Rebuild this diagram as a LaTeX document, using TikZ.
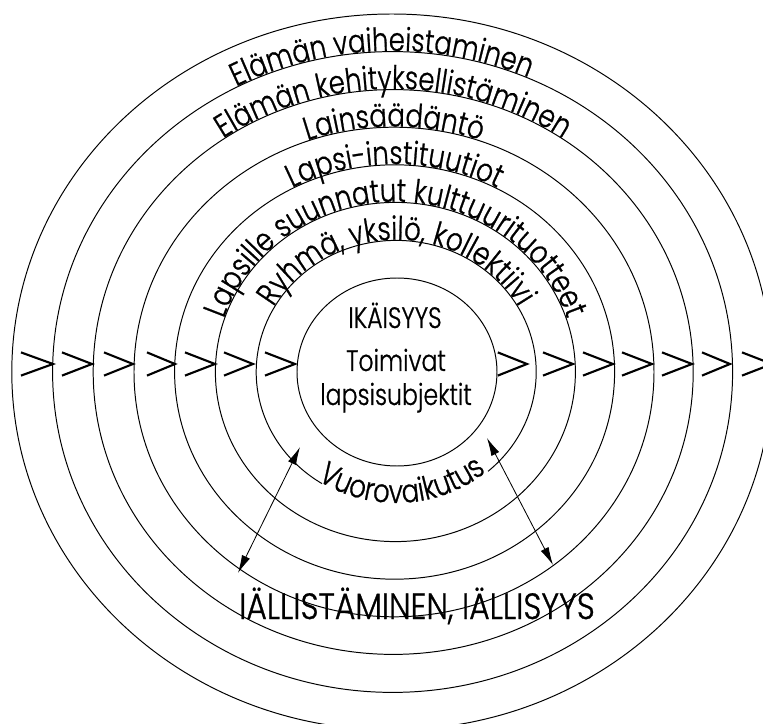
\documentclass[tikz,border=0pt]{standalone}
\usepackage{fontspec}
\setmainfont{Poppins}
\newfontfamily\ringfamily[FakeStretch=0.8, FakeBold=0.8]{Poppins Light}
\newfontfamily\corefamily[FakeStretch=0.8, FakeBold=0.8]{Poppins Light}
\newfontfamily\widefamily[FakeStretch=0.86, FakeBold=0.8]{Poppins Light}
\usetikzlibrary{decorations.text}
\usetikzlibrary{arrows.meta}

\newcommand{\ringfont}{\ringfamily\fontsize{23}{25}\selectfont}

\begin{document}
\begin{tikzpicture}[
    ring/.style={line width=0.7pt},
    chev/.style={line width=1.5pt},
    ringlabel/.style={decorate, decoration={text along path, text align=center, raise=0.5pt}},
    corelabel/.style={anchor=base, inner sep=0pt, font=\corefamily\fontsize{21}{23}\selectfont},
    twoway/.style={{Latex[length=4.5mm,width=2.2mm]}-{Latex[length=4.5mm,width=2.2mm]}, line width=0.6pt}
  ]
    \useasboundingbox (-9.925,-8.8) rectangle (9.15,9.3);
    \clip (-9.925,-8.8) rectangle (9.15,9.3);

    % Rings, innermost first (ring 1 is open at the bottom)
    \draw[ring] (0,0) ellipse [x radius=2.5, y radius=2.35];
    \draw[ring] (-0.02,0) ++(-49:3.5 and 3.29) arc[start angle=-49, end angle=238, x radius=3.5, y radius=3.29];
    \draw[ring] (-0.04,0) ellipse [x radius=4.5, y radius=4.24];
    \draw[ring] (-0.06,0) ellipse [x radius=5.5, y radius=5.18];
    \draw[ring] (-0.075,0) ellipse [x radius=6.5, y radius=6.12];
    \draw[ring] (-0.095,0) ellipse [x radius=7.5, y radius=7.06];
    \draw[ring] (-0.11,0) ellipse [x radius=8.5, y radius=8.01];
    \draw[ring] (-0.13,0) ellipse [x radius=9.5, y radius=8.95];

    % Ring labels
    \path[ringlabel, decoration={text={|\ringfont|Ryhmä, yksilö, kollektiivi}}]
      (-0.02,0) ++(180:3.5 and 3.29) arc[start angle=180, end angle=0, x radius=3.5, y radius=3.29];
    \path[ringlabel, decoration={text={|\ringfont|Vuorovaikutus}}]
      (-0.02,0) ++(203:3.5 and 3.29) arc[start angle=203, end angle=343, x radius=3.5, y radius=3.29];
    \path[ringlabel, decoration={text={|\ringfont|Lapsille suunnatut kulttuurituotteet}}]
      (-0.04,0) ++(180:4.5 and 4.24) arc[start angle=180, end angle=0, x radius=4.5, y radius=4.24];
    \path[ringlabel, decoration={text={|\ringfont|Lapsi-instituutiot}}]
      (-0.06,0) ++(180:5.5 and 5.18) arc[start angle=180, end angle=0, x radius=5.5, y radius=5.18];
    \path[ringlabel, decoration={text={|\ringfont|Lainsäädäntö}}]
      (-0.075,0) ++(180:6.5 and 6.12) arc[start angle=180, end angle=0, x radius=6.5, y radius=6.12];
    \path[ringlabel, decoration={text={|\ringfont|Elämän kehityksellistäminen}}]
      (-0.095,0) ++(180:7.5 and 7.06) arc[start angle=180, end angle=0, x radius=7.5, y radius=7.06];
    \path[ringlabel, decoration={text={|\ringfont|Elämän vaiheistaminen}}]
      (-0.11,0) ++(182:8.5 and 8.01) arc[start angle=182, end angle=2, x radius=8.5, y radius=8.01];

    % Chevrons, left side
    \draw[chev] (-9.4,0.49) -- (-8.6,0.2) -- (-9.4,-0.09);
    \draw[chev] (-8.375,0.49) -- (-7.625,0.2) -- (-8.375,-0.09);
    \draw[chev] (-7.325,0.49) -- (-6.6,0.2) -- (-7.325,-0.09);
    \draw[chev] (-6.25,0.49) -- (-5.55,0.2) -- (-6.25,-0.09);
    \draw[chev] (-5.3,0.49) -- (-4.55,0.2) -- (-5.3,-0.09);
    \draw[chev] (-4.325,0.49) -- (-3.6,0.2) -- (-4.325,-0.09);
    \draw[chev] (-3.3,0.49) -- (-2.55,0.2) -- (-3.3,-0.09);

    % Chevrons, right side
    \draw[chev] (2.52,0.49) -- (3.25,0.2) -- (2.52,-0.09);
    \draw[chev] (3.65,0.49) -- (4.4,0.2) -- (3.65,-0.09);
    \draw[chev] (4.65,0.49) -- (5.4,0.2) -- (4.65,-0.09);
    \draw[chev] (5.625,0.49) -- (6.375,0.2) -- (5.625,-0.09);
    \draw[chev] (6.625,0.49) -- (7.375,0.2) -- (6.625,-0.09);
    \draw[chev] (7.625,0.49) -- (8.325,0.2) -- (7.625,-0.09);
    \draw[chev] (8.625,0.49) -- (9.375,0.2) -- (8.625,-0.09);

    % Centre
    \node[corelabel] (ika) at (-0.05,1.1) {IKÄISYYS};
    \node[corelabel] (toimivat) at (-0.025,0.025) {Toimivat};
    \node[corelabel] (subj) at (-0.025,-0.825) {lapsisubjektit};

    \node[corelabel, font=\widefamily\fontsize{26}{28}\selectfont] (aikuis) at (0.5,-6.175) {IÄLLISTÄMINEN, IÄLLISYYS};

    % Interaction arrows
    \coordinate (lin) at (-2.425,-1.875);
    \coordinate (lout) at (-3.975,-5.025);
    \coordinate (rin) at (2.25,-1.65);
    \coordinate (rout) at (3.9,-4.825);
    \draw[twoway] (lin) -- (lout);
    \draw[twoway] (rin) -- (rout);
  \end{tikzpicture}
\end{document}
